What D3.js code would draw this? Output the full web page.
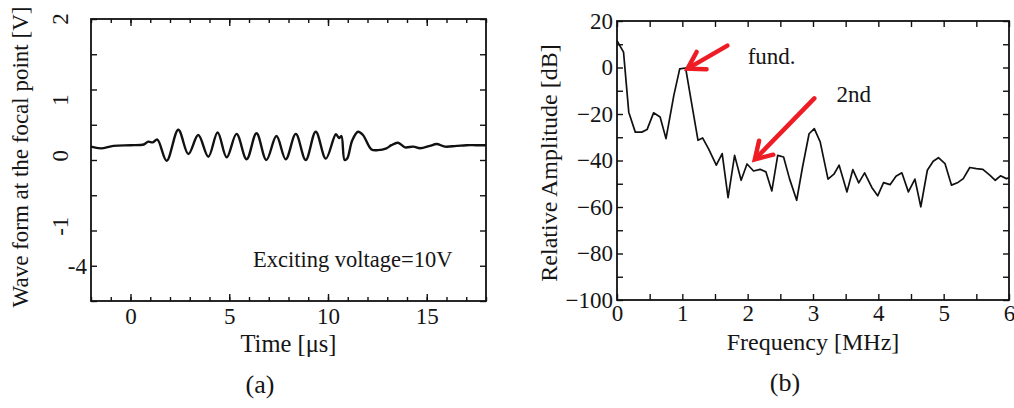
<!DOCTYPE html>
<html>
<head>
<meta charset="utf-8">
<script src="https://cdn.jsdelivr.net/npm/d3@7"></script>
<style>
  body { margin: 0; background: #fff; }
  svg text { font-family: "Liberation Serif", "DejaVu Serif", serif; fill: #151515; }
</style>
</head>
<body>
<div id="fig"></div>
<script>
// (a) wave form at the focal point
var timeUs = [-2, -1.5, -0.86, 0.0, 0.67, 0.9, 1.13, 1.36, 1.83, 2.42, 2.93, 3.43, 3.94, 4.41, 4.87,
  5.37, 5.88, 6.38, 6.88, 7.39, 7.86, 8.37, 8.87, 9.38, 9.89, 10.4, 10.56, 10.68, 10.84, 10.97,
  11.23, 11.52, 11.77, 12.2, 12.53, 12.96, 13.21, 13.54, 13.9, 14.32, 14.66, 15.16, 15.5, 15.92,
  16.5, 17.0, 17.5, 18];
var waveV = [0.19, 0.165, 0.2, 0.21, 0.22, 0.26, 0.25, 0.29, -0.01, 0.43, 0.085, 0.355, 0.047, 0.39, 0.038,
  0.37, 0.01, 0.38, 0.0, 0.34, 0.01, 0.37, 0.0, 0.40, 0.02, 0.365, 0.31, 0.34, 0.0, 0.02,
  0.28, 0.40, 0.355, 0.15, 0.14, 0.166, 0.21, 0.245, 0.18, 0.19, 0.166, 0.2, 0.227, 0.19,
  0.2, 0.21, 0.21, 0.21];
var timeLabels = [0, 5, 10, 15];
// y labels of (a) as printed, and where they sit on the axis
var voltLabels = ['2', '1', '0', '-1', '-4'];
var voltLabelAt = [2, 0.85, 0.06, -0.94, -1.5];
var voltLabelTurned = [true, true, true, true, false];

// (b) spectrum
var freqMHz = [0.0, 0.1, 0.18, 0.28, 0.38, 0.46, 0.56, 0.66, 0.75, 0.87, 0.96, 1.05, 1.13, 1.24, 1.31,
  1.4, 1.52, 1.61, 1.7, 1.8, 1.9, 1.99, 2.09, 2.19, 2.28, 2.37, 2.46, 2.55, 2.64, 2.75, 2.84,
  2.94, 3.02, 3.11, 3.23, 3.32, 3.4, 3.52, 3.61, 3.7, 3.79, 3.9, 3.99, 4.08, 4.18, 4.27, 4.36,
  4.46, 4.56, 4.65, 4.75, 4.84, 4.92, 5.02, 5.12, 5.21, 5.3, 5.4, 5.5, 5.6, 5.71, 5.79, 5.87, 5.96, 6.0];
var ampDb = [11.5, 6.6, -19.2, -27.8, -27.8, -26.7, -19.5, -21.3, -30.6, -12, -0.6, -0.2, -13.4, -31.3, -30.3,
  -34.9, -42, -37, -56, -37.8, -48.5, -41.5, -44.5, -43.8, -44.9, -53.1, -37.8, -38.5, -47.8, -57.1, -42.8,
  -28.5, -26.3, -32, -48, -45.9, -42, -53.5, -43.9, -49.6, -45.3, -51.6, -55.2, -49.5, -50.4, -46.8, -45.3,
  -53.5, -48, -59.9, -44.2, -40.3, -38.8, -41.3, -50.6, -49.6, -47.8, -43, -43.5, -43.8, -46.4, -48.5, -46.6, -47.8, -47.5];
var freqLabels = [0, 1, 2, 3, 4, 5, 6];
var dbLabels = [20, 0, -20, -40, -60, -80, -100];
// annotations: text, text anchor point, arrow tail, arrow tip (data units)
var notes = ['fund.', '2nd'];
var noteAt = [[2.0, 1.3], [3.36, -14.9]];
var arrowFrom = [[1.69, 9.4], [3.02, -13.3]];
var arrowTo = [[1.08, -0.5], [2.11, -39.5]];

var W = 1014, H = 408;
var svg = d3.select('#fig').append('svg').attr('width', W).attr('height', H);
svg.append('rect').attr('width', W).attr('height', H).attr('fill', '#fff');

/**
 * Frame a plot box with a border.
 */
var frame = function(box) {
  svg.append('rect').attr('x', box.l).attr('y', box.t)
    .attr('width', box.r - box.l).attr('height', box.b - box.t)
    .attr('fill', 'none').attr('stroke', '#111').attr('stroke-width', 1.8);
};

/**
 * Draw inward ticks with d3 axes (no labels).
 */
var ticks = function(g, axisFn, scale, values, size, tx, ty) {
  g.append('g').attr('transform', 'translate(' + tx + ',' + ty + ')')
    .call(axisFn(scale).tickValues(values).tickSizeInner(size).tickSizeOuter(0).tickFormat(''))
    .call(function(s) { s.select('.domain').remove(); })
    .selectAll('line').attr('stroke', '#111').attr('stroke-width', 1.4);
};

var fmt = d3.format('d');

// ---------- panel (a)
var boxA = {l: 91, r: 486, t: 19, b: 301};
var xA = d3.scaleLinear().domain([-2, 18]).range([boxA.l, boxA.r]);
var yA = d3.scaleLinear().domain([-2, 2]).range([boxA.b, boxA.t]);
var gA = svg.append('g');

ticks(gA, d3.axisBottom, xA, d3.range(-2, 19, 1), -4, 0, boxA.b);
ticks(gA, d3.axisBottom, xA, timeLabels, -7, 0, boxA.b);
ticks(gA, d3.axisTop, xA, d3.range(-2, 19, 1), -4, 0, boxA.t);
ticks(gA, d3.axisTop, xA, timeLabels, -7, 0, boxA.t);
ticks(gA, d3.axisLeft, yA, d3.range(-2, 2.01, 0.5), -6, boxA.l, 0);
ticks(gA, d3.axisRight, yA, d3.range(-2, 2.01, 0.5), -6, boxA.r, 0);

gA.append('g').attr('transform', 'translate(0,' + boxA.b + ')')
  .call(d3.axisBottom(xA).tickValues(timeLabels).tickFormat(fmt).tickSize(0).tickPadding(7))
  .call(function(s) { s.select('.domain').remove(); })
  .selectAll('text').style('font-size', '23px');

voltLabels.forEach(function(lab, i) {
  var y = yA(voltLabelAt[i]);
  if (voltLabelTurned[i]) {
    gA.append('text').attr('transform', 'translate(68,' + y + ') rotate(-90)')
      .attr('text-anchor', 'middle').style('font-size', '23px').text(lab);
  } else {
    gA.append('text').attr('x', 87).attr('y', y).attr('dy', '0.35em')
      .attr('text-anchor', 'end').style('font-size', '23px').text(lab);
  }
});

var lineA = d3.line().x(function(d) { return xA(d[0]); }).y(function(d) { return yA(d[1]); })
  .curve(d3.curveCatmullRom);
gA.append('path').datum(d3.zip(timeUs, waveV)).attr('d', lineA)
  .attr('fill', 'none').attr('stroke', '#111').attr('stroke-width', 2.4);

frame(boxA);

gA.append('text').attr('x', xA(6.2)).attr('y', yA(-1.52)).style('font-size', '22.5px')
  .text('Exciting voltage=10V');
gA.append('text').attr('x', (boxA.l + boxA.r) / 2).attr('y', 352).attr('text-anchor', 'middle')
  .style('font-size', '24.5px').text('Time [\u03bcs]');
gA.append('text').attr('transform', 'translate(28,' + 157 + ') rotate(-90)').attr('text-anchor', 'middle')
  .style('font-size', '23px').text('Wave form at the focal point [V]');
gA.append('text').attr('x', 260).attr('y', 393).attr('text-anchor', 'middle')
  .style('font-size', '26px').text('(a)');

// ---------- panel (b)
var boxB = {l: 617, r: 1009, t: 21, b: 300};
var xB = d3.scaleLinear().domain([0, 6]).range([boxB.l, boxB.r]);
var yB = d3.scaleLinear().domain([-100, 20]).range([boxB.b, boxB.t]);
var gB = svg.append('g');

ticks(gB, d3.axisBottom, xB, d3.range(0, 6.01, 0.5), -6, 0, boxB.b);
ticks(gB, d3.axisTop, xB, d3.range(0, 6.01, 0.5), -6, 0, boxB.t);
ticks(gB, d3.axisLeft, yB, d3.range(-100, 21, 10), -6, boxB.l, 0);
ticks(gB, d3.axisRight, yB, d3.range(-100, 21, 10), -6, boxB.r, 0);

gB.append('g').attr('transform', 'translate(0,' + boxB.b + ')')
  .call(d3.axisBottom(xB).tickValues(freqLabels).tickFormat(fmt).tickSize(0).tickPadding(5))
  .call(function(s) { s.select('.domain').remove(); })
  .selectAll('text').style('font-size', '23px');
gB.append('g').attr('transform', 'translate(' + boxB.l + ',0)')
  .call(d3.axisLeft(yB).tickValues(dbLabels).tickFormat(fmt).tickSize(0).tickPadding(4))
  .call(function(s) { s.select('.domain').remove(); })
  .selectAll('text').style('font-size', '23px');

var lineB = d3.line().x(function(d) { return xB(d[0]); }).y(function(d) { return yB(d[1]); });
gB.append('path').datum(d3.zip(freqMHz, ampDb)).attr('d', lineB)
  .attr('fill', 'none').attr('stroke', '#111').attr('stroke-width', 1.7).attr('stroke-linejoin', 'round');

frame(boxB);

// red arrows with chevron heads
notes.forEach(function(txt, i) {
  var x0 = xB(arrowFrom[i][0]), y0 = yB(arrowFrom[i][1]);
  var x1 = xB(arrowTo[i][0]), y1 = yB(arrowTo[i][1]);
  var ang = Math.atan2(y0 - y1, x0 - x1), arm = 19;
  var h1 = [x1 + arm * Math.cos(ang - 0.55), y1 + arm * Math.sin(ang - 0.55)];
  var h2 = [x1 + arm * Math.cos(ang + 0.55), y1 + arm * Math.sin(ang + 0.55)];
  gB.append('line').attr('x1', x0).attr('y1', y0).attr('x2', x1 + 4 * Math.cos(ang)).attr('y2', y1 + 4 * Math.sin(ang))
    .attr('stroke', '#ee1c24').attr('stroke-width', 4.5).attr('stroke-linecap', 'round');
  gB.append('path').attr('d', d3.line()([h1, [x1, y1], h2]))
    .attr('fill', 'none').attr('stroke', '#ee1c24').attr('stroke-width', 4.5)
    .attr('stroke-linecap', 'round').attr('stroke-linejoin', 'miter');
  gB.append('text').attr('x', xB(noteAt[i][0])).attr('y', yB(noteAt[i][1]))
    .style('font-size', '23px').text(txt);
});

gB.append('text').attr('x', (boxB.l + boxB.r) / 2).attr('y', 350).attr('text-anchor', 'middle')
  .style('font-size', '24px').text('Frequency [MHz]');
gB.append('text').attr('transform', 'translate(557,' + 163 + ') rotate(-90)').attr('text-anchor', 'middle')
  .style('font-size', '24px').text('Relative Amplitude [dB]');
gB.append('text').attr('x', 785).attr('y', 391).attr('text-anchor', 'middle')
  .style('font-size', '26px').text('(b)');
</script>
</body>
</html>
